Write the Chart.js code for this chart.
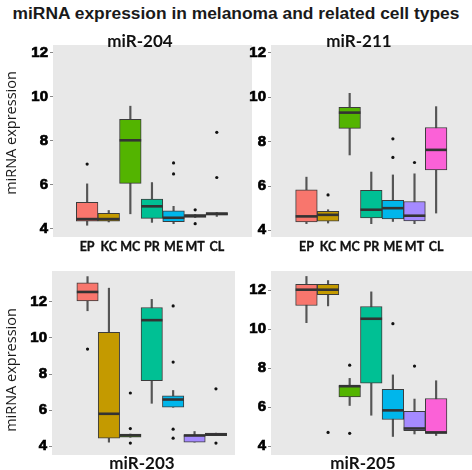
<!DOCTYPE html>
<html>
<head>
<meta charset="utf-8">
<script src="https://cdn.jsdelivr.net/npm/chart.js@4.4.1/dist/chart.umd.min.js"></script>
<style>
  html, body { margin: 0; padding: 0; background: #fff; }
  body { width: 472px; height: 470px; position: relative; overflow: hidden; }
  canvas { position: absolute; }
  .t { position: absolute; white-space: nowrap; line-height: 1; color: #111; transform: translate(-50%, -50%); }
  .main { font-family: 'Liberation Sans', Arial, sans-serif; font-weight: bold; font-size: 17.4px; color: #1a1a1a; }
  .pt { font-family: 'Lato', sans-serif; font-weight: bold; font-size: 17px; }
  .yt { font-family: 'Open Sans', sans-serif; font-size: 14.5px; color: #1a1a1a; transform: translate(-50%, -50%) rotate(-90deg); }
</style>
</head>
<body>
<div class="t main" style="left:236px; top:14px;">miRNA expression in melanoma and related cell types</div>
<canvas id="c204" width="254" height="260" style="left:0px; top:0px;"></canvas>
<canvas id="c211" width="236" height="260" style="left:236px; top:0px;"></canvas>
<canvas id="c203" width="240" height="210" style="left:0px; top:260px;"></canvas>
<canvas id="c205" width="236" height="210" style="left:236px; top:260px;"></canvas>
<div class="t pt" style="left:140px; top:40px;">miR-204</div>
<div class="t pt" style="left:359px; top:40px;">miR-211</div>
<div class="t pt" style="left:142px; top:462px;">miR-203</div>
<div class="t pt" style="left:363px; top:462px;">miR-205</div>
<div class="t yt" style="left:11px; top:133px;">miRNA expression</div>
<div class="t yt" style="left:11px; top:370px;">miRNA expression</div>
<script>
// ---- Data ----
const categories = ['EP', 'KC', 'MC', 'PR', 'ME', 'MT', 'CL'];
const yTicks = [4, 6, 8, 10, 12];

// miR-204: lower whisker, Q1, median, Q3, upper whisker, outliers
const mir204Low    = [4.17, 4.32, 4.69, 4.30, 4.24, 4.52, 4.57];
const mir204Q1     = [4.35, 4.35, 6.07, 4.48, 4.33, 4.52, 4.63];
const mir204Median = [4.45, 4.45, 8.03, 5.03, 4.51, 4.60, 4.69];
const mir204Q3     = [5.21, 4.71, 8.98, 5.36, 4.83, 4.66, 4.75];
const mir204High   = [6.05, 4.84, 9.58, 6.11, 5.03, 4.66, 4.75];
const mir204Out    = [[6.95], [], [], [], [7.00, 6.50], [4.87, 4.24], [8.39, 6.34]];

// miR-211
const mir211Low    = [4.30, 4.33, 7.40, 4.30, 4.40, 4.30, 4.78];
const mir211Q1     = [4.38, 4.41, 8.60, 4.56, 4.51, 4.42, 6.73];
const mir211Median = [4.63, 4.70, 9.31, 4.93, 5.00, 4.66, 7.63];
const mir211Q3     = [5.83, 4.86, 9.55, 5.80, 5.35, 5.30, 8.64];
const mir211High   = [6.40, 4.93, 10.18, 6.63, 6.50, 6.55, 9.58];
const mir211Out    = [[], [5.60], [], [], [8.13, 7.29], [7.06], []];

// miR-203
const mir203Low    = [11.50, 4.23, 4.50, 6.38, 6.16, 4.23, 4.59];
const mir203Q1     = [12.04, 4.45, 4.50, 7.63, 6.16, 4.23, 4.59];
const mir203Median = [12.54, 5.80, 4.61, 10.98, 6.59, 4.60, 4.66];
const mir203Q3     = [13.04, 10.30, 4.68, 11.68, 6.79, 4.64, 4.73];
const mir203High   = [13.39, 12.75, 4.68, 12.13, 7.09, 4.82, 4.73];
const mir203Out    = [[9.38], [], [6.95, 4.98, 4.18], [], [11.77, 8.66, 4.95, 4.45], [], [7.18, 4.18]];

// miR-205
const mir205Low    = [10.34, 11.20, 6.09, 5.59, 4.50, 4.63, 4.55];
const mir205Q1     = [11.22, 11.78, 6.53, 7.23, 5.37, 4.80, 4.66];
const mir205Median = [12.03, 12.03, 7.08, 10.54, 5.84, 4.91, 4.71];
const mir205Q3     = [12.30, 12.30, 7.11, 11.17, 6.92, 5.79, 6.45];
const mir205High   = [12.71, 12.50, 7.48, 11.92, 7.66, 6.42, 7.36];
const mir205Out    = [[], [4.71], [8.16, 4.66], [], [10.29], [8.11], []];

// ---- Styles ----
const fillColors = ['#F8766D', '#C49A00', '#53B400', '#00C094', '#00B6EB', '#A58AFF', '#FB61D7'];

const panelBg = {
  id: 'panelBg',
  beforeDraw(chart) {
    const { ctx, chartArea: a } = chart;
    ctx.save();
    ctx.fillStyle = '#E8E8E8';
    ctx.fillRect(a.left, a.top, a.right - a.left, a.bottom - a.top);
    ctx.restore();
  }
};

function makePanel(id, stats, layout) {
  const [low, q1, med, q3, high, out] = stats;
  const outlierPts = [];
  out.forEach((vals, i) => vals.forEach(v => outlierPts.push({ x: i, y: v })));
  const halfBox = (ctx) => {
    const xs = ctx.chart.scales.x;
    return (xs.getPixelForValue(1) - xs.getPixelForValue(0)) / 2;
  };
  new Chart(document.getElementById(id), {
    type: 'bar',
    data: {
      datasets: [
        { type: 'scatter', data: outlierPts, pointRadius: 1.6, pointBackgroundColor: '#111',
          pointBorderWidth: 0, order: 0 },
        { type: 'scatter', data: categories.map((c, i) => ({ x: i, y: med[i] })),
          pointStyle: 'line', pointRadius: halfBox, pointBorderColor: '#333', pointBorderWidth: 2.6, order: 1 },
        { data: categories.map((c, i) => ({ x: i, y: [q1[i], q3[i]] })),
          backgroundColor: fillColors, borderColor: '#3c3c3c', borderWidth: 1, borderSkipped: false,
          grouped: false, barPercentage: 1, categoryPercentage: 1, order: 2 },
        { data: categories.map((c, i) => ({ x: i, y: [low[i], high[i]] })),
          backgroundColor: '#555', borderWidth: 0, grouped: false,
          barPercentage: 1, categoryPercentage: 1, maxBarThickness: 1.5, order: 3 }
      ]
    },
    options: {
      responsive: false,
      animation: false,
      events: [],
      layout: { autoPadding: false, padding: { left: 0, top: layout.padTop, right: layout.padRight, bottom: 0 } },
      plugins: { legend: { display: false }, tooltip: { enabled: false }, title: { display: false } },
      scales: {
        x: {
          type: 'linear', min: layout.xMin, max: layout.xMax, offset: false,
          afterBuildTicks: s => { s.ticks = categories.map((c, i) => ({ value: i })); },
          afterFit: s => { s.height = layout.xH; },
          grid: { display: false, drawTicks: false },
          border: { display: false },
          ticks: {
            display: layout.showX, autoSkip: false, maxRotation: 0, padding: 2,
            color: '#111', font: { family: 'Lato', weight: 'bold', size: 12.5 },
            textStrokeColor: '#111', textStrokeWidth: 0.3,
            callback: (v, i) => categories[i]
          }
        },
        y: {
          type: 'linear', min: layout.yMin, max: layout.yMax,
          afterBuildTicks: s => { s.ticks = yTicks.map(v => ({ value: v })); },
          afterFit: s => { s.width = layout.yW; },
          grid: { drawOnChartArea: false, drawTicks: true, tickLength: 3, color: '#888' },
          border: { display: false },
          ticks: { padding: 2, color: '#000', textStrokeColor: '#000', textStrokeWidth: 0.7,
                   font: { family: 'Liberation Sans', weight: 'bold', size: 15 } }
        }
      }
    },
    plugins: [panelBg]
  });
}

makePanel('c204', [mir204Low, mir204Q1, mir204Median, mir204Q3, mir204High, mir204Out],
  { padTop: 45, padRight: 2, xH: 23, yW: 53, xMin: -1.58, xMax: 7.63, yMin: 3.636, yMax: 12.36, showX: true });
makePanel('c211', [mir211Low, mir211Q1, mir211Median, mir211Q3, mir211High, mir211Out],
  { padTop: 45, padRight: 0, xH: 23, yW: 35, xMin: -1.64, xMax: 7.66, yMin: 3.70, yMax: 12.36, showX: true });
makePanel('c203', [mir203Low, mir203Q1, mir203Median, mir203Q3, mir203High, mir203Out],
  { padTop: 5, padRight: 5, xH: 15, yW: 52, xMin: -1.66, xMax: 6.89, yMin: 3.52, yMax: 13.70, showX: false });
makePanel('c205', [mir205Low, mir205Q1, mir205Median, mir205Q3, mir205High, mir205Out],
  { padTop: 5, padRight: 0, xH: 15, yW: 35, xMin: -1.64, xMax: 7.66, yMin: 3.55, yMax: 12.99, showX: false });
</script>
</body>
</html>
